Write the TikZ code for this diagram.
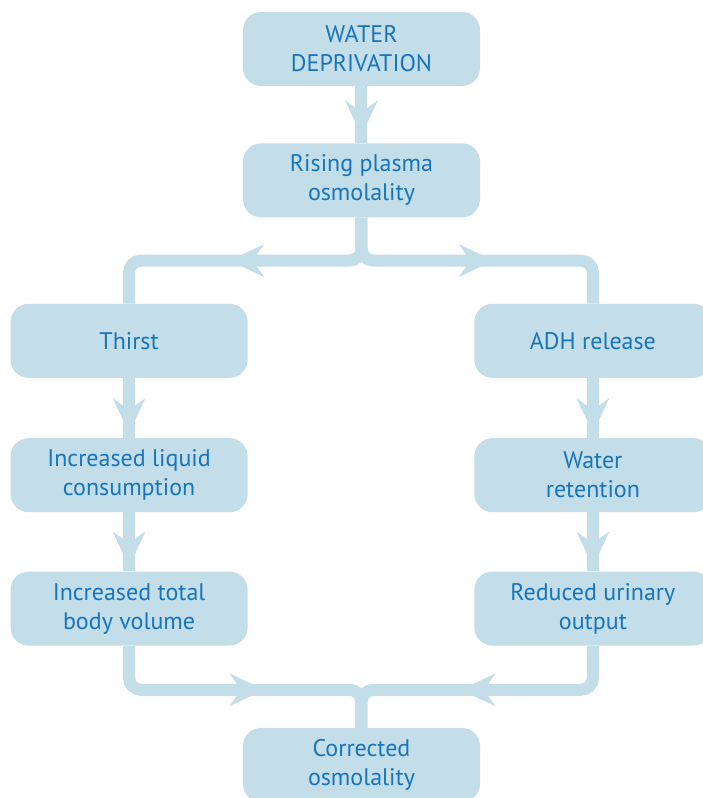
\documentclass[tikz,border=0pt]{standalone}
\usepackage{fontspec}
\setmainfont{PT Sans}
\definecolor{boxblue}{RGB}{195, 221, 233}
\definecolor{textblue}{RGB}{22, 117, 187}
\usetikzlibrary{positioning, arrows.meta, decorations.markings}

\begin{document}
\begin{tikzpicture}[
					node distance=60pt and 0pt,
					box/.style={fill=boxblue, rounded corners=18pt, minimum width=237pt, minimum height=74pt,
						inner sep=0pt, align=center, text=textblue, font=\fontsize{24pt}{29pt}\selectfont},
					flow/.style={line width=12pt, boxblue, rounded corners=12pt},
					tipat/.style={postaction={decorate}, decoration={markings,
						mark=at position #1 with {\arrow{Stealth[length=35pt, width=33pt, inset=12pt, line width=0pt]}}}}
					]
					\useasboundingbox (-361.5pt,49pt) rectangle (341.5pt,-749pt);
					\node[box]  (water)     at (0,0)                          {WATER\\DEPRIVATION};
					\node[box]  (osm)       [below=57pt of water]             {Rising plasma\\osmolality};
					\node[box]  (thirst)    [below left=86pt and -5pt of osm]  {Thirst};
					\node[box]  (adh)       [below right=86pt and -6pt of osm] {ADH release};
					\node[box]  (liquid)    [below=60pt of thirst]            {Increased liquid\\consumption};
					\node[box]  (volume)    [below=59pt of liquid]            {Increased total\\body volume};
					\node[box]  (retention) [below=60pt of adh]               {Water\\retention};
					\node[box]  (urinary)   [below=59pt of retention]         {Reduced urinary\\output};
					\coordinate[below=43pt of osm.south] (splittop);
					\coordinate (joinmid) at (osm |- volume.south);
					\coordinate[below=44pt of joinmid] (joinbot);
					\node[box]  (corrected) [below=38pt of joinbot]           {Corrected\\osmolality};
					
					\draw[flow, tipat=-8pt]   (water)     -- (osm);
					\draw[flow, tipat=170pt]  (osm)       -- (splittop) -| (thirst);
					\draw[flow, tipat=170pt]  (osm)       -- (splittop) -| (adh);
					\draw[flow, tipat=-5pt]   (thirst)    -- (liquid);
					\draw[flow, tipat=-5pt]   (liquid)    -- (volume);
					\draw[flow, tipat=-5pt]   (adh)       -- (retention);
					\draw[flow, tipat=-5pt]   (retention) -- (urinary);
					\draw[flow, tipat=174pt]  (volume)    |- (joinbot) -- (corrected);
					\draw[flow, tipat=171pt]  (urinary)   |- (joinbot) -- (corrected);
				\end{tikzpicture}
\end{document}
